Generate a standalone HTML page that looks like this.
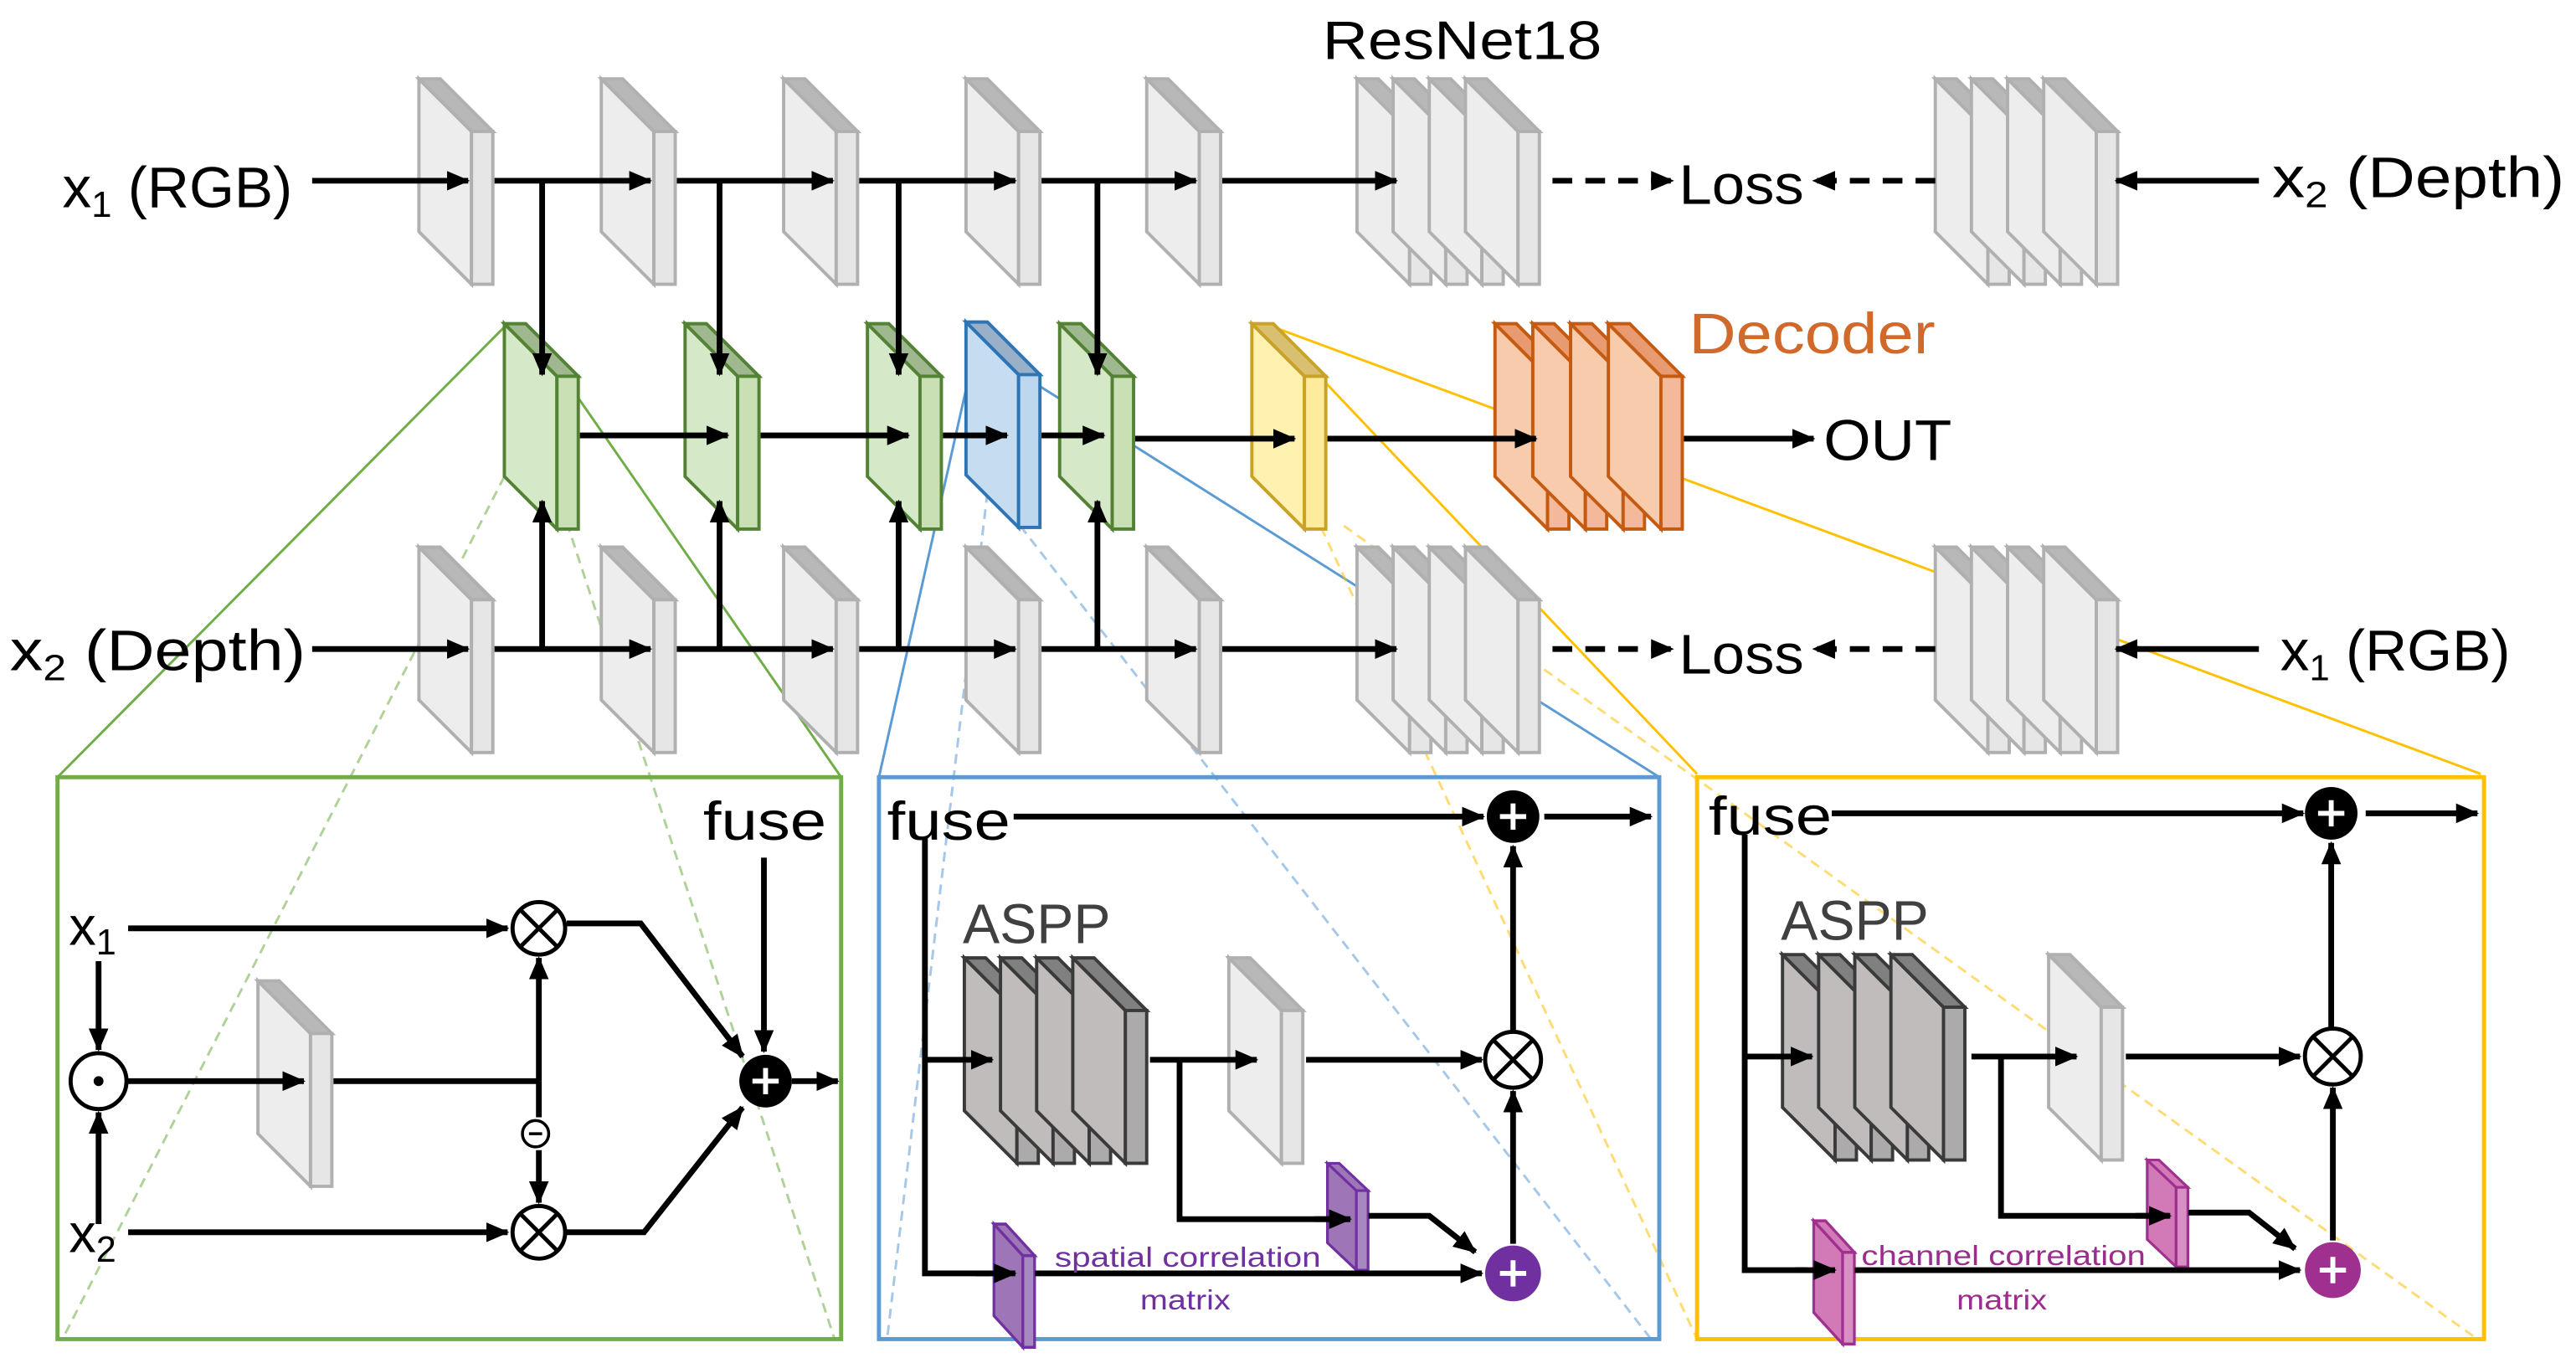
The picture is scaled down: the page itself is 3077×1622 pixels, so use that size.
<!DOCTYPE html>
<html><head><meta charset="utf-8"><style>
html,body{margin:0;padding:0;background:#fff;overflow:hidden}
svg{display:block}
text{font-family:"Liberation Sans",sans-serif}
</style></head><body>
<svg width="3077" height="1622" viewBox="0 0 1568 826.5" preserveAspectRatio="none" xmlns="http://www.w3.org/2000/svg">
<defs>
<marker id="ah" markerWidth="14" markerHeight="12" refX="13" refY="6" orient="auto" markerUnits="userSpaceOnUse"><path d="M0,0 L14,6 L0,12 z" fill="#000"/></marker>
<g id="sg"><polygon points="0,0 32,32 32,125 0,93" fill="#ededed" stroke="#b0b0b0" stroke-width="2"/><polygon points="0,0 13,0 45,32 32,32" fill="#b8b8b8" stroke="#b0b0b0" stroke-width="2"/><rect x="32" y="32" width="13" height="93" fill="#e6e6e6" stroke="#b0b0b0" stroke-width="2"/></g>
<g id="sgr"><polygon points="0,0 32,32 32,125 0,93" fill="#d5e8c8" stroke="#548235" stroke-width="2"/><polygon points="0,0 13,0 45,32 32,32" fill="#a0b890" stroke="#548235" stroke-width="2"/><rect x="32" y="32" width="13" height="93" fill="#c9e0b5" stroke="#548235" stroke-width="2"/></g>
<g id="sbl"><polygon points="0,0 32,32 32,125 0,93" fill="#c6dcf0" stroke="#2e75b6" stroke-width="2"/><polygon points="0,0 13,0 45,32 32,32" fill="#9ab0c8" stroke="#2e75b6" stroke-width="2"/><rect x="32" y="32" width="13" height="93" fill="#bdd7ee" stroke="#2e75b6" stroke-width="2"/></g>
<g id="sy"><polygon points="0,0 32,32 32,125 0,93" fill="#fff2b0" stroke="#c9a227" stroke-width="2"/><polygon points="0,0 13,0 45,32 32,32" fill="#d8c070" stroke="#c9a227" stroke-width="2"/><rect x="32" y="32" width="13" height="93" fill="#ffeb9c" stroke="#c9a227" stroke-width="2"/></g>
<g id="so"><polygon points="0,0 32,32 32,125 0,93" fill="#f8cbad" stroke="#c55a11" stroke-width="2"/><polygon points="0,0 13,0 45,32 32,32" fill="#e89a70" stroke="#c55a11" stroke-width="2"/><rect x="32" y="32" width="13" height="93" fill="#f4b89a" stroke="#c55a11" stroke-width="2"/></g>
<g id="sd"><polygon points="0,0 32,32 32,125 0,93" fill="#c0bcbc" stroke="#3a3a3a" stroke-width="2"/><polygon points="0,0 13,0 45,32 32,32" fill="#808080" stroke="#3a3a3a" stroke-width="2"/><rect x="32" y="32" width="13" height="93" fill="#acaaaa" stroke="#3a3a3a" stroke-width="2"/></g>
<g id="sp"><polygon points="0,0 32,32 32,125 0,93" fill="#9e76b8" stroke="#7030a0" stroke-width="3"/><polygon points="0,0 13,0 45,32 32,32" fill="#9e76b8" stroke="#7030a0" stroke-width="3"/><rect x="32" y="32" width="13" height="93" fill="#a888c0" stroke="#7030a0" stroke-width="3"/></g>
<g id="spk"><polygon points="0,0 32,32 32,125 0,93" fill="#d27ab8" stroke="#a0308f" stroke-width="3"/><polygon points="0,0 13,0 45,32 32,32" fill="#d27ab8" stroke="#a0308f" stroke-width="3"/><rect x="32" y="32" width="13" height="93" fill="#d890c4" stroke="#a0308f" stroke-width="3"/></g>
</defs>

<!-- projection lines -->
<g fill="none" stroke-width="1.5">
<line x1="307" y1="199" x2="35" y2="473" stroke="#70ad47"/>
<line x1="338" y1="222" x2="512" y2="473" stroke="#70ad47"/>
<line x1="307" y1="290" x2="38" y2="815" stroke="#70ad47" stroke-dasharray="6,4" opacity="0.55"/>
<line x1="345" y1="318" x2="508" y2="815" stroke="#70ad47" stroke-dasharray="6,4" opacity="0.55"/>
<line x1="597" y1="197" x2="535" y2="473" stroke="#5b9bd5"/>
<line x1="628" y1="232" x2="1010" y2="473" stroke="#5b9bd5"/>
<line x1="601" y1="300" x2="540" y2="815" stroke="#5b9bd5" stroke-dasharray="6,4" opacity="0.55"/>
<line x1="621" y1="320" x2="1005" y2="815" stroke="#5b9bd5" stroke-dasharray="6,4" opacity="0.55"/>
<line x1="775" y1="199" x2="1510" y2="471" stroke="#ffc000"/>
<line x1="806" y1="232" x2="1033" y2="471" stroke="#ffc000"/>
<line x1="800" y1="312" x2="1033" y2="815" stroke="#ffc000" stroke-dasharray="6,4" opacity="0.55"/>
<line x1="818" y1="320" x2="1508" y2="815" stroke="#ffc000" stroke-dasharray="6,4" opacity="0.55"/>
</g>

<!-- slabs top -->
<use href="#sg" x="255" y="48"/><use href="#sg" x="366" y="48"/><use href="#sg" x="477" y="48"/><use href="#sg" x="588" y="48"/><use href="#sg" x="698" y="48"/>
<use href="#sg" x="826" y="48"/><use href="#sg" x="848" y="48"/><use href="#sg" x="870" y="48"/><use href="#sg" x="892" y="48"/>
<use href="#sg" x="1178" y="48"/><use href="#sg" x="1200" y="48"/><use href="#sg" x="1222" y="48"/><use href="#sg" x="1244" y="48"/>
<!-- bottom -->
<use href="#sg" x="255" y="333"/><use href="#sg" x="366" y="333"/><use href="#sg" x="477" y="333"/><use href="#sg" x="588" y="333"/><use href="#sg" x="698" y="333"/>
<use href="#sg" x="826" y="333"/><use href="#sg" x="848" y="333"/><use href="#sg" x="870" y="333"/><use href="#sg" x="892" y="333"/>
<use href="#sg" x="1178" y="333"/><use href="#sg" x="1200" y="333"/><use href="#sg" x="1222" y="333"/><use href="#sg" x="1244" y="333"/>
<!-- middle -->
<use href="#sgr" x="307" y="197"/><use href="#sgr" x="417" y="197"/><use href="#sgr" x="528" y="197"/>
<use href="#sbl" x="588" y="196"/><use href="#sgr" x="645" y="197"/>
<use href="#sy" x="762" y="197"/>
<use href="#so" x="910" y="197"/><use href="#so" x="933" y="197"/><use href="#so" x="956" y="197"/><use href="#so" x="979" y="197"/>

<!-- connectors drawn over slabs -->
<g stroke="#000" stroke-width="3.5" fill="none">
<line x1="190" y1="110" x2="285" y2="110" marker-end="url(#ah)"/>
<line x1="301" y1="110" x2="396" y2="110" marker-end="url(#ah)"/>
<line x1="412" y1="110" x2="507" y2="110" marker-end="url(#ah)"/>
<line x1="523" y1="110" x2="618" y2="110" marker-end="url(#ah)"/>
<line x1="634" y1="110" x2="728" y2="110" marker-end="url(#ah)"/>
<line x1="744" y1="110" x2="850" y2="110" marker-end="url(#ah)"/>
<line x1="330" y1="110" x2="330" y2="228" marker-end="url(#ah)"/>
<line x1="438" y1="110" x2="438" y2="228" marker-end="url(#ah)"/>
<line x1="547" y1="110" x2="547" y2="228" marker-end="url(#ah)"/>
<line x1="668" y1="110" x2="668" y2="228" marker-end="url(#ah)"/>
<line x1="945" y1="110" x2="1018" y2="110" stroke-dasharray="12,8" marker-end="url(#ah)"/>
<line x1="1178" y1="110" x2="1104" y2="110" stroke-dasharray="12,8" marker-end="url(#ah)"/>
<line x1="1375" y1="110" x2="1288" y2="110" marker-end="url(#ah)"/>
<line x1="353" y1="265" x2="443" y2="265" marker-end="url(#ah)"/>
<line x1="463" y1="265" x2="553" y2="265" marker-end="url(#ah)"/>
<line x1="574" y1="265" x2="613" y2="265" marker-end="url(#ah)"/>
<line x1="634" y1="265" x2="672" y2="265" marker-end="url(#ah)"/>
<line x1="691" y1="267" x2="788" y2="267" marker-end="url(#ah)"/>
<line x1="808" y1="267" x2="935" y2="267" marker-end="url(#ah)"/>
<line x1="1025" y1="267" x2="1104" y2="267" marker-end="url(#ah)"/>
<line x1="190" y1="395" x2="285" y2="395" marker-end="url(#ah)"/>
<line x1="301" y1="395" x2="396" y2="395" marker-end="url(#ah)"/>
<line x1="412" y1="395" x2="507" y2="395" marker-end="url(#ah)"/>
<line x1="523" y1="395" x2="618" y2="395" marker-end="url(#ah)"/>
<line x1="634" y1="395" x2="728" y2="395" marker-end="url(#ah)"/>
<line x1="744" y1="395" x2="850" y2="395" marker-end="url(#ah)"/>
<line x1="330" y1="395" x2="330" y2="305" marker-end="url(#ah)"/>
<line x1="438" y1="395" x2="438" y2="305" marker-end="url(#ah)"/>
<line x1="547" y1="395" x2="547" y2="305" marker-end="url(#ah)"/>
<line x1="668" y1="395" x2="668" y2="305" marker-end="url(#ah)"/>
<line x1="945" y1="395" x2="1018" y2="395" stroke-dasharray="12,8" marker-end="url(#ah)"/>
<line x1="1178" y1="395" x2="1104" y2="395" stroke-dasharray="12,8" marker-end="url(#ah)"/>
<line x1="1375" y1="395" x2="1288" y2="395" marker-end="url(#ah)"/>
</g>

<!-- labels -->
<g lengthAdjust="spacingAndGlyphs">
<text x="38" y="126" font-size="35" textLength="140" lengthAdjust="spacingAndGlyphs">x<tspan font-size="22" dy="6">1</tspan><tspan dy="-6"> (RGB)</tspan></text>
<text x="805" y="36" font-size="33" textLength="170" lengthAdjust="spacingAndGlyphs">ResNet18</text>
<text x="1022" y="124" font-size="34" textLength="76" lengthAdjust="spacingAndGlyphs">Loss</text>
<text x="1383" y="120" font-size="35" textLength="178" lengthAdjust="spacingAndGlyphs">x<tspan font-size="22" dy="6">2</tspan><tspan dy="-6"> (Depth)</tspan></text>
<text x="1028" y="215" font-size="35" fill="#d0692a" textLength="150" lengthAdjust="spacingAndGlyphs">Decoder</text>
<text x="1110" y="280" font-size="35" textLength="78" lengthAdjust="spacingAndGlyphs">OUT</text>
<text x="6" y="408" font-size="35" textLength="180" lengthAdjust="spacingAndGlyphs">x<tspan font-size="22" dy="6">2</tspan><tspan dy="-6"> (Depth)</tspan></text>
<text x="1022" y="410" font-size="34" textLength="76" lengthAdjust="spacingAndGlyphs">Loss</text>
<text x="1388" y="408" font-size="35" textLength="140" lengthAdjust="spacingAndGlyphs">x<tspan font-size="22" dy="6">1</tspan><tspan dy="-6"> (RGB)</tspan></text>
</g>

<!-- panels -->
<rect x="35" y="473" width="477" height="342" fill="none" stroke="#70ad47" stroke-width="2.5"/>
<rect x="535" y="473" width="475" height="342" fill="none" stroke="#5b9bd5" stroke-width="2.5"/>
<rect x="1033" y="473" width="479" height="342" fill="none" stroke="#ffc000" stroke-width="2.5"/>

<!-- green panel -->
<text x="428" y="511" font-size="33" textLength="75" lengthAdjust="spacingAndGlyphs">fuse</text>
<text x="42" y="575" font-size="33">x<tspan font-size="22" dy="6">1</tspan></text>
<text x="42" y="762" font-size="33">x<tspan font-size="22" dy="6">2</tspan></text>
<use href="#sg" x="157" y="597"/>
<g stroke="#000" stroke-width="3.5" fill="none">
<line x1="465" y1="522" x2="465" y2="640" marker-end="url(#ah)"/>
<line x1="78" y1="565" x2="309" y2="565" marker-end="url(#ah)"/>
<line x1="60" y1="585" x2="60" y2="639" marker-end="url(#ah)"/>
<line x1="60" y1="745" x2="60" y2="677" marker-end="url(#ah)"/>
<line x1="78" y1="658" x2="185" y2="658" marker-end="url(#ah)"/>
<line x1="203" y1="658" x2="328" y2="658"/>
<line x1="328" y1="658" x2="328" y2="583" marker-end="url(#ah)"/>
<line x1="328" y1="658" x2="328" y2="680"/>
<line x1="328" y1="700" x2="328" y2="732" marker-end="url(#ah)"/>
<line x1="78" y1="750" x2="309" y2="750" marker-end="url(#ah)"/>
<polyline points="345,562 390,562 452,643" marker-end="url(#ah)"/>
<polyline points="345,750 392,750 452,674" marker-end="url(#ah)"/>
<line x1="482" y1="658" x2="510" y2="658" marker-end="url(#ah)"/>
</g>
<circle cx="60" cy="658" r="17" fill="#fff" stroke="#000" stroke-width="2.5"/><circle cx="60" cy="658" r="3" fill="#000"/>
<circle cx="328" cy="565" r="16" fill="#fff" stroke="#000" stroke-width="2.5"/><path d="M317,554 L339,576 M339,554 L317,576" stroke="#000" stroke-width="2.5"/>
<circle cx="328" cy="750" r="16" fill="#fff" stroke="#000" stroke-width="2.5"/><path d="M317,739 L339,761 M339,739 L317,761" stroke="#000" stroke-width="2.5"/>
<circle cx="326" cy="690" r="8" fill="#fff" stroke="#000" stroke-width="1.8"/><line x1="322" y1="690" x2="330" y2="690" stroke="#000" stroke-width="1.8"/>
<circle cx="466" cy="658" r="16" fill="#000"/><path d="M466,650 V666 M458,658 H474" stroke="#fff" stroke-width="3"/>

<!-- blue panel -->
<text x="540" y="511" font-size="33" textLength="75" lengthAdjust="spacingAndGlyphs">fuse</text>
<text x="586" y="574" font-size="34" fill="#404040" textLength="90" lengthAdjust="spacingAndGlyphs">ASPP</text>
<use href="#sd" x="587" y="583"/><use href="#sd" x="609" y="583"/><use href="#sd" x="631" y="583"/><use href="#sd" x="653" y="583"/>
<use href="#sg" x="748" y="583"/>
<use href="#sp" transform="translate(808,708) scale(0.55,0.52)"/>
<use href="#sp" transform="translate(605,745) scale(0.55,0.6)"/>
<g stroke="#000" stroke-width="3.5" fill="none">
<line x1="617" y1="497" x2="903" y2="497" marker-end="url(#ah)"/>
<line x1="940" y1="497" x2="1005" y2="497" marker-end="url(#ah)"/>
<polyline points="563,510 563,775 603,775"/>
<line x1="594" y1="775" x2="618" y2="775" marker-end="url(#ah)"/>
<line x1="563" y1="645" x2="604" y2="645" marker-end="url(#ah)"/>
<line x1="700" y1="645" x2="765" y2="645" marker-end="url(#ah)"/>
<line x1="795" y1="645" x2="902" y2="645" marker-end="url(#ah)"/>
<polyline points="718,645 718,742 820,742"/>
<line x1="800" y1="742" x2="822" y2="742" marker-end="url(#ah)"/>
<polyline points="833,740 870,740 898,762" marker-end="url(#ah)"/>
<line x1="630" y1="775" x2="902" y2="775" marker-end="url(#ah)"/>
<line x1="921" y1="757" x2="921" y2="664" marker-end="url(#ah)"/>
<line x1="921" y1="627" x2="921" y2="515" marker-end="url(#ah)"/>
</g>
<circle cx="921" cy="497" r="16" fill="#000"/><path d="M921,489 V505 M913,497 H929" stroke="#fff" stroke-width="3"/>
<circle cx="921" cy="645" r="17" fill="#fff" stroke="#000" stroke-width="2.5"/><path d="M909,633 L933,657 M933,633 L909,657" stroke="#000" stroke-width="2.5"/>
<circle cx="921" cy="775" r="17" fill="#7030a0"/><path d="M921,767 V783 M913,775 H929" stroke="#fff" stroke-width="3"/>
<text x="642" y="771" font-size="17" fill="#7030a0" textLength="162" lengthAdjust="spacingAndGlyphs">spatial correlation</text>
<text x="694" y="797" font-size="17" fill="#7030a0" textLength="55" lengthAdjust="spacingAndGlyphs">matrix</text>

<!-- yellow panel -->
<text x="1040" y="508" font-size="33" textLength="75" lengthAdjust="spacingAndGlyphs">fuse</text>
<text x="1084" y="572" font-size="34" fill="#404040" textLength="90" lengthAdjust="spacingAndGlyphs">ASPP</text>
<use href="#sd" x="1085" y="581"/><use href="#sd" x="1107" y="581"/><use href="#sd" x="1129" y="581"/><use href="#sd" x="1151" y="581"/>
<use href="#sg" x="1247" y="581"/>
<use href="#spk" transform="translate(1307,706) scale(0.55,0.52)"/>
<use href="#spk" transform="translate(1104,743) scale(0.55,0.6)"/>
<g stroke="#000" stroke-width="3.5" fill="none">
<line x1="1115" y1="495" x2="1402" y2="495" marker-end="url(#ah)"/>
<line x1="1440" y1="495" x2="1508" y2="495" marker-end="url(#ah)"/>
<polyline points="1062,508 1062,773 1100,773"/>
<line x1="1093" y1="773" x2="1117" y2="773" marker-end="url(#ah)"/>
<line x1="1062" y1="643" x2="1103" y2="643" marker-end="url(#ah)"/>
<line x1="1200" y1="643" x2="1264" y2="643" marker-end="url(#ah)"/>
<line x1="1294" y1="643" x2="1400" y2="643" marker-end="url(#ah)"/>
<polyline points="1218,643 1218,740 1320,740"/>
<line x1="1300" y1="740" x2="1321" y2="740" marker-end="url(#ah)"/>
<polyline points="1332,738 1369,738 1397,760" marker-end="url(#ah)"/>
<line x1="1129" y1="773" x2="1400" y2="773" marker-end="url(#ah)"/>
<line x1="1420" y1="755" x2="1420" y2="662" marker-end="url(#ah)"/>
<line x1="1419" y1="625" x2="1419" y2="513" marker-end="url(#ah)"/>
</g>
<circle cx="1419" cy="495" r="16" fill="#000"/><path d="M1419,487 V503 M1411,495 H1427" stroke="#fff" stroke-width="3"/>
<circle cx="1420" cy="643" r="17" fill="#fff" stroke="#000" stroke-width="2.5"/><path d="M1408,631 L1432,655 M1432,631 L1408,655" stroke="#000" stroke-width="2.5"/>
<circle cx="1420" cy="773" r="17" fill="#a0308f"/><path d="M1420,765 V781 M1412,773 H1428" stroke="#fff" stroke-width="3"/>
<text x="1133" y="770" font-size="17" fill="#9b2d8e" textLength="173" lengthAdjust="spacingAndGlyphs">channel correlation</text>
<text x="1191" y="797" font-size="17" fill="#9b2d8e" textLength="55" lengthAdjust="spacingAndGlyphs">matrix</text>
</svg>
</body></html>
